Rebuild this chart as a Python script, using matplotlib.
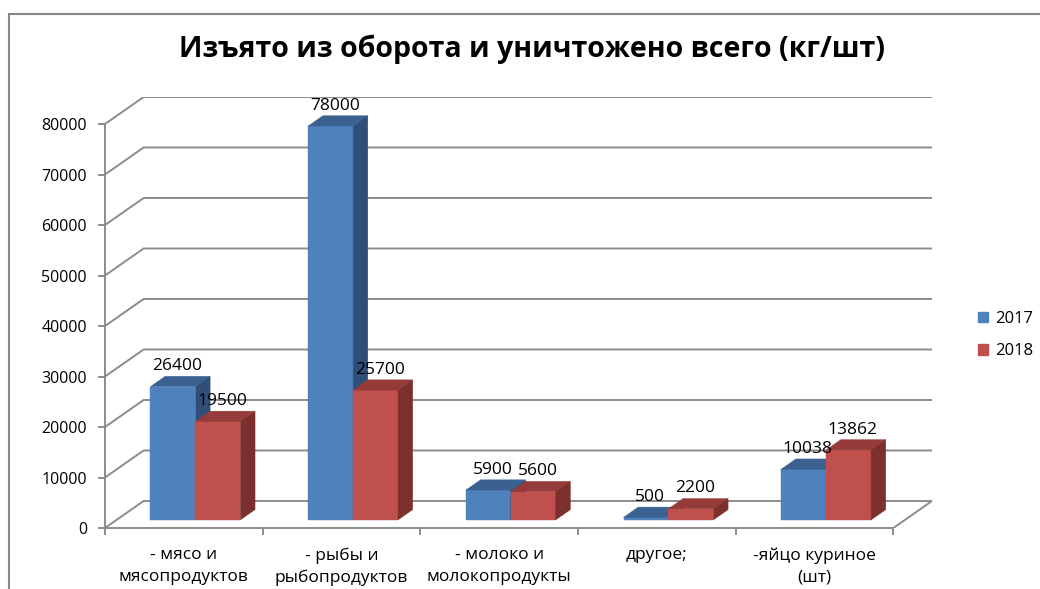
import numpy as np
import matplotlib
matplotlib.use("Agg")
import matplotlib.pyplot as plt
from matplotlib.patches import Polygon, Rectangle

plt.rcParams['font.family'] = ['Open Sans', 'DejaVu Sans']

# data
categories = ['- мясо и\nмясопродуктов', '- рыбы и\nрыбопродуктов', '- молоко и\nмолокопродукты',
              'другое;', '-яйцо куриное\n(шт)']
years = ['2017', '2018']
v2017 = [26400, 78000, 5900, 500, 10038]
v2018 = [19500, 25700, 5600, 2200, 13862]
yticks = list(range(0, 80001, 10000))

# oblique "3d" depth, in data units
DX = 0.245
DY = 5350
D0, D1 = 0.30, 0.68          # bar depth span (fraction of floor depth)
BW = 0.285                   # bar width in category units
ncat = len(categories)

face = {'2017': ('#4F81BD', '#3B6190', '#2F4F78'),
        '2018': ('#C0504D', '#953C3A', '#7C302E')}
grid_c = '#8C8C8C'

fig = plt.figure(figsize=(10.4, 5.89), dpi=100)
ax = fig.add_axes([105 / 1040, 1 - 528 / 589, (932 - 105) / 1040, (528 - 97) / 589])
ax.set_xlim(0, ncat + DX)
ax.set_ylim(0, 80000 + DY)

# walls / floor lines
for v in yticks:
    ax.plot([0, DX, ncat + DX], [v, v + DY, v + DY], color=grid_c, lw=1.4, zorder=1)
ax.plot([ncat, ncat + DX], [0, DY], color=grid_c, lw=1.4, zorder=1)


def bar(x0, val, cols):
    fc, tc, sc = cols
    x1 = x0 + BW
    ox0, oy0 = D0 * DX, D0 * DY
    ox1, oy1 = D1 * DX, D1 * DY
    front = [(x0 + ox0, oy0), (x1 + ox0, oy0), (x1 + ox0, val + oy0), (x0 + ox0, val + oy0)]
    top = [(x0 + ox0, val + oy0), (x1 + ox0, val + oy0), (x1 + ox1, val + oy1), (x0 + ox1, val + oy1)]
    side = [(x1 + ox0, oy0), (x1 + ox1, oy1), (x1 + ox1, val + oy1), (x1 + ox0, val + oy0)]
    for pts, c in ((front, fc), (top, tc), (side, sc)):
        ax.add_patch(Polygon(pts, closed=True, facecolor=c, edgecolor=c, lw=0.3, zorder=3))
    ax.text((x0 + x1) / 2 + ox1 * 0.6, val + oy1 + 400, f'{val}', ha='center', va='bottom',
            fontsize=12.5, color='black', zorder=5)


for i in range(ncat):
    start = i + 0.5 - BW
    bar(start, v2017[i], face['2017'])
    bar(start + BW, v2018[i], face['2018'])

# axes
for s in ['top', 'right']:
    ax.spines[s].set_visible(False)
ax.spines['left'].set_bounds(0, 80000)
ax.spines['bottom'].set_bounds(0, ncat)
for s in ['left', 'bottom']:
    ax.spines[s].set_color(grid_c)
    ax.spines[s].set_linewidth(1.4)
ax.set_yticks(yticks)
ax.set_yticklabels([str(v) for v in yticks], fontsize=11.5)
ax.set_xticks(np.arange(ncat + 1))
ax.set_xticklabels([''] * (ncat + 1))
ax.set_xticks(np.arange(ncat) + 0.5, minor=True)
ax.set_xticklabels(categories, minor=True, fontsize=12.5, linespacing=1.45)
ax.tick_params(axis='x', which='minor', length=0, pad=14)
ax.tick_params(axis='both', which='major', length=5, color=grid_c, width=1.4)
ax.tick_params(axis='y', pad=8)

# legend
ax.legend(handles=[Rectangle((0, 0), 1, 1, color=face[y][0]) for y in years], labels=years,
          loc='center left', bbox_to_anchor=(978 / 1040, 1 - 335 / 589),
          bbox_transform=fig.transFigure, frameon=False, fontsize=12,
          handlelength=0.6, handleheight=0.6, handletextpad=0.45, labelspacing=1.0,
          borderpad=0, borderaxespad=0)

fig.text(532 / 1040, 1 - 49 / 589, 'Изъято из оборота и уничтожено всего (кг/шт)',
         ha='center', va='center', fontsize=20.5, fontweight='bold')

# outer chart border
fig.patches.append(Rectangle((9 / 1040, -0.1), 1.1, 1 - 14 / 589 + 0.1, transform=fig.transFigure,
                             fill=False, edgecolor='#868686', lw=1.5))

fig.savefig('out.png', dpi=100)
